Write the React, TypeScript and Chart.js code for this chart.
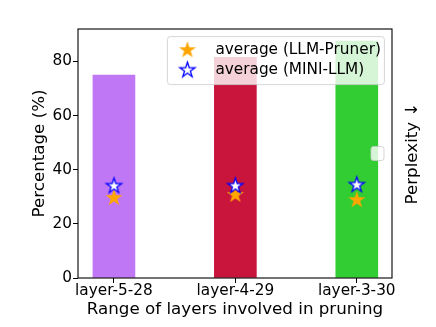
import React, { useEffect, useRef } from "react";
import { Chart, registerables } from "chart.js";
Chart.register(...registerables);

const categories = ["layer-5-28", "layer-4-29", "layer-3-30"];
const barValues = [75, 81.5, 87.5];
const barColors = ["#bf77f6", "#c9143c", "#32cd32"];
const llmPrunerAvg = [29.6, 30.7, 28.8];
const miniLlmAvg = [34.0, 34.0, 34.4];
const yTicks = [0, 20, 40, 60, 80];
const legendLabels = ["average (LLM-Pruner)", "average (MINI-LLM)"];
const yTitle = "Percentage (%)";
const xTitle = "Range of layers involved in pruning";
const y2Title = "Perplexity \u2193";

const FONT = "'DejaVu Sans', sans-serif";

function makeStar(fill: string, stroke: string | null, lw: number, R: number) {
  const size = Math.ceil(2 * (R + lw) + 2);
  const c = document.createElement("canvas");
  c.width = size;
  c.height = size;
  const g = c.getContext("2d")!;
  const cx = size / 2;
  const cy = size / 2;
  g.beginPath();
  for (let i = 0; i < 10; i++) {
    const ang = -Math.PI / 2 + (i * Math.PI) / 5;
    const r = i % 2 ? R * 0.382 : R;
    const x = cx + r * Math.cos(ang);
    const y = cy + r * Math.sin(ang);
    if (i === 0) g.moveTo(x, y);
    else g.lineTo(x, y);
  }
  g.closePath();
  g.fillStyle = fill;
  g.fill();
  if (stroke) {
    g.lineJoin = "miter";
    g.strokeStyle = stroke;
    g.lineWidth = lw;
    g.stroke();
  }
  return c;
}

export default function App() {
  const ref = useRef<HTMLCanvasElement | null>(null);
  useEffect(() => {
    const canvas = ref.current!;
    const orangeStar = makeStar("#ffa500", null, 0, 9);
    const blueStar = makeStar("#ffffff", "#0000ff", 1.3, 8);

    const decor = {
      id: "decor",
      afterDraw(chart: any) {
        const { ctx, chartArea: a } = chart;
        ctx.save();
        // frame
        ctx.strokeStyle = "#000";
        ctx.lineWidth = 1.1;
        ctx.strokeRect(a.left, a.top, a.right - a.left, a.bottom - a.top);
        // right axis label
        ctx.fillStyle = "#000";
        ctx.font = `16.7px ${FONT}`;
        ctx.textAlign = "center";
        ctx.textBaseline = "middle";
        ctx.save();
        ctx.translate(a.right + 11 + 10, (a.top + a.bottom) / 2);
        ctx.rotate(-Math.PI / 2);
        ctx.fillText(y2Title, 0, 0);
        ctx.restore();
        // empty legend (perplexity)
        const ecx = a.right - 8 - 13;
        const ecy = (a.top + a.bottom) / 2 - 7;
        ctx.beginPath();
        ctx.roundRect(ecx, ecy, 13, 14, 2.5);
        ctx.fillStyle = "rgba(255,255,255,0.8)";
        ctx.fill();
        ctx.strokeStyle = "rgba(204,204,204,0.8)";
        ctx.lineWidth = 1;
        ctx.stroke();
        // main legend
        const w = 217;
        const h = 48;
        const x0 = a.right - 7.6 - w;
        const y0 = a.top + 7.6;
        ctx.beginPath();
        ctx.roundRect(x0, y0, w, h, 3);
        ctx.fillStyle = "rgba(255,255,255,0.8)";
        ctx.fill();
        ctx.strokeStyle = "rgba(204,204,204,0.8)";
        ctx.stroke();
        const imgs = [orangeStar, blueStar];
        ctx.font = `15.3px ${FONT}`;
        ctx.textAlign = "left";
        ctx.fillStyle = "#000";
        legendLabels.forEach((lab, i) => {
          const cy = y0 + 13.5 + i * 20;
          const img = imgs[i];
          ctx.drawImage(img, x0 + 20 - img.width / 2, cy - img.height / 2);
          ctx.fillText(lab, x0 + 48, cy);
        });
        ctx.restore();
      },
    };

    const tickFont = { family: FONT, size: 15.3, lineHeight: 1 };
    const titleFont = { family: FONT, size: 16.7 };

    const chart = new Chart(canvas, {
      type: "bar",
      data: {
        datasets: [
          {
            type: "scatter",
            data: categories.map((_, i) => ({ x: i, y: miniLlmAvg[i] })),
            pointStyle: blueStar as any,
            order: 1,
          } as any,
          {
            type: "scatter",
            data: categories.map((_, i) => ({ x: i, y: llmPrunerAvg[i] })),
            pointStyle: orangeStar as any,
            order: 2,
          } as any,
          {
            type: "bar",
            data: categories.map((_, i) => ({ x: i, y: barValues[i] })),
            backgroundColor: barColors,
            barThickness: 42,
            order: 3,
          } as any,
        ],
      },
      options: {
        responsive: false,
        animation: false,
        devicePixelRatio: 1,
        layout: { padding: { top: 29, right: 44, left: 0, bottom: 0 } },
        plugins: { legend: { display: false }, tooltip: { enabled: false } },
        scales: {
          x: {
            type: "linear",
            offset: false,
            min: -0.296,
            max: 2.29,
            afterBuildTicks: (s: any) => {
              s.ticks = categories.map((_, i) => ({ value: i }));
            },
            afterFit: (s: any) => {
              s.height = 49;
            },
            ticks: {
              callback: (v: any) => categories[v] ?? "",
              font: tickFont,
              color: "#000",
              padding: 0,
              autoSkip: false,
              maxRotation: 0,
            },
            grid: {
              display: true,
              offset: false,
              drawOnChartArea: false,
              tickLength: 5,
              tickColor: "#000",
              tickWidth: 1,
            },
            border: { display: false },
            title: {
              display: true,
              text: xTitle,
              font: titleFont,
              color: "#000",
              padding: { top: 0, bottom: 7 },
            },
          } as any,
          y: {
            type: "linear",
            min: 0,
            max: 92,
            afterBuildTicks: (s: any) => {
              s.ticks = yTicks.map((v) => ({ value: v }));
            },
            afterFit: (s: any) => {
              s.width = 78;
            },
            ticks: { font: tickFont, color: "#000", padding: 1 },
            grid: {
              display: true,
              drawOnChartArea: false,
              tickLength: 5,
              tickColor: "#000",
              tickWidth: 1,
            },
            border: { display: false },
            title: {
              display: true,
              text: yTitle,
              font: titleFont,
              color: "#000",
              padding: { top: 30, bottom: 0 },
            },
          } as any,
        },
      },
      plugins: [decor],
    });
    return () => chart.destroy();
  }, []);

  return (
    <div style={{ position: "absolute", left: 0, top: 0, width: 436, height: 327, background: "#fff" }}>
      <canvas ref={ref} width={436} height={327} style={{ display: "block", width: 436, height: 327 }} />
    </div>
  );
}
